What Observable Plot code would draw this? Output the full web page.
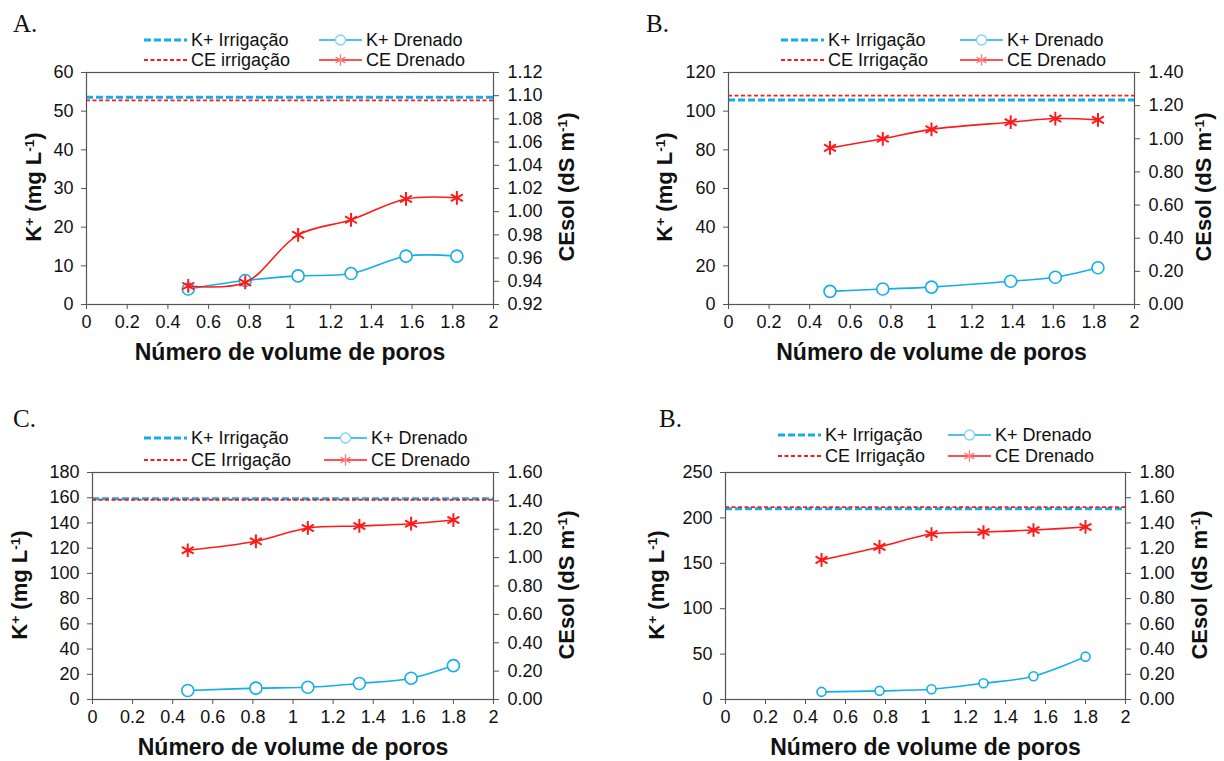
<!DOCTYPE html>
<html><head><meta charset="utf-8">
<script src="https://cdn.jsdelivr.net/npm/d3@7"></script>
<script src="https://cdn.jsdelivr.net/npm/@observablehq/plot@0.6"></script>
<style>
body{margin:0;background:#fff;font-family:"Liberation Sans",Arial,sans-serif;}
#root{position:relative;width:1224px;height:761px;overflow:hidden;background:#fff;}
.panel{position:absolute;}
.letter{position:absolute;font-family:"Liberation Serif","Times New Roman",serif;font-size:25px;line-height:1;color:#111;}
.leg{position:absolute;height:20px;font-size:18px;line-height:20px;white-space:nowrap;display:flex;align-items:center;color:#111;}
.leg svg{margin-right:4px;flex:none;}
.ytitle{position:absolute;white-space:nowrap;font-weight:bold;font-size:22px;line-height:1;color:#111;transform:translate(-50%,-50%) rotate(-90deg);}
.ytitle sup{font-size:0.62em;vertical-align:0.55em;line-height:0;}
</style></head><body><div id="root"></div>
<script>
// ---------- data ----------
const xA = [0.50, 0.78, 1.04, 1.30, 1.57, 1.82];
const kA = [4.0, 6.2, 7.4, 8.0, 12.5, 12.5];
const ceA = [0.936, 0.939, 0.980, 0.993, 1.011, 1.012];
const kIrrA = 53.6, ceIrrA = 1.096;
const kTicksA = [0, 10, 20, 30, 40, 50, 60];
const ceTicksA = [0.92, 0.94, 0.96, 0.98, 1.00, 1.02, 1.04, 1.06, 1.08, 1.10, 1.12];

const xB = [0.50, 0.76, 1.00, 1.39, 1.61, 1.82];
const kB = [6.8, 8.0, 9.0, 12.0, 14.1, 19.0];
const ceB = [0.945, 1.000, 1.057, 1.100, 1.122, 1.114];
const kIrrB = 105.8, ceIrrB = 1.26;
const kTicksB = [0, 20, 40, 60, 80, 100, 120];
const ceTicksB = [0, 0.2, 0.4, 0.6, 0.8, 1.0, 1.2, 1.4];

const xC = [0.475, 0.815, 1.074, 1.331, 1.589, 1.80];
const kC = [7.1, 9.0, 9.7, 12.7, 16.9, 26.9];
const ceC = [1.052, 1.115, 1.209, 1.223, 1.239, 1.265];
const kIrrC = 159.2, ceIrrC = 1.408;
const kTicksC = [0, 20, 40, 60, 80, 100, 120, 140, 160, 180];
const ceTicksC = [0, 0.2, 0.4, 0.6, 0.8, 1.0, 1.2, 1.4, 1.6];

const xD = [0.48, 0.77, 1.03, 1.29, 1.54, 1.80];
const kD = [8.4, 9.5, 11.3, 17.9, 25.6, 47.2];
const ceD = [1.107, 1.210, 1.312, 1.328, 1.344, 1.368];
const kIrrD = 210.0, ceIrrD = 1.526;
const kTicksD = [0, 50, 100, 150, 200, 250];
const ceTicksD = [0, 0.2, 0.4, 0.6, 0.8, 1.0, 1.2, 1.4, 1.6, 1.8];

const xTicks = [0, 0.2, 0.4, 0.6, 0.8, 1, 1.2, 1.4, 1.6, 1.8, 2];
const xTitle = "Número de volume de poros";
const kTitleHTML = "K<sup>+</sup> (mg L<sup>-1</sup>)";
const ceTitleHTML = "CEsol (dS m<sup>-1</sup>)";

// ---------- styling / layout ----------
const BLUE = "#13AEEA", RED = "#FF1A1A", AXIS = "#555";

const panels = [
  {letter: "A.", letterPos: [13, 11], left: 0, top: 62, width: 612, height: 300,
   m: {top: 10, right: 119, bottom: 58, left: 86},
   x: xA, k: kA, ce: ceA, kIrr: kIrrA, ceIrr: ceIrrA, kDomain: [0, 60], kTicks: kTicksA,
   ceDomain: [0.92, 1.12], ceTicks: ceTicksA, ceIrrLabel: "CE irrigação", r: 6,
   legCols: [144, 319], legRows: [40, 60], ltx: 34, rtx: 567, ty: 187},
  {letter: "B.", letterPos: [646, 11], left: 612, top: 62, width: 612, height: 300,
   m: {top: 10, right: 90, bottom: 58, left: 116},
   x: xB, k: kB, ce: ceB, kIrr: kIrrB, ceIrr: ceIrrB, kDomain: [0, 120], kTicks: kTicksB,
   ceDomain: [0, 1.4], ceTicks: ceTicksB, ceIrrLabel: "CE Irrigação", r: 6,
   legCols: [781, 960], legRows: [40, 60], ltx: 665, rtx: 1204, ty: 187},
  {letter: "C.", letterPos: [13, 406], left: 0, top: 462, width: 612, height: 299,
   m: {top: 10, right: 119, bottom: 62, left: 92},
   x: xC, k: kC, ce: ceC, kIrr: kIrrC, ceIrr: ceIrrC, kDomain: [0, 180], kTicks: kTicksC,
   ceDomain: [0, 1.6], ceTicks: ceTicksC, ceIrrLabel: "CE Irrigação", r: 6,
   legCols: [144, 324], legRows: [438, 460], ltx: 20, rtx: 567, ty: 585},
  {letter: "B.", letterPos: [659, 406], left: 612, top: 462, width: 612, height: 299,
   m: {top: 10, right: 99, bottom: 62, left: 113},
   x: xD, k: kD, ce: ceD, kIrr: kIrrD, ceIrr: ceIrrD, kDomain: [0, 250], kTicks: kTicksD,
   ceDomain: [0, 1.8], ceTicks: ceTicksD, ceIrrLabel: "CE Irrigação", r: 4.5,
   legCols: [778, 948], legRows: [435, 456], ltx: 657, rtx: 1200, ty: 585}
];

const root = document.getElementById("root");

function swatch(kind) {
  const svg = d3.create("svg").attr("width", 43).attr("height", 20);
  if (kind === "kIrr") {
    svg.append("line").attr("x1", 0).attr("x2", 43).attr("y1", 10).attr("y2", 10)
      .attr("stroke", BLUE).attr("stroke-width", 3).attr("stroke-dasharray", "7,3");
  } else if (kind === "ceIrr") {
    svg.append("line").attr("x1", 0).attr("x2", 43).attr("y1", 10).attr("y2", 10)
      .attr("stroke", RED).attr("stroke-width", 1.8).attr("stroke-dasharray", "4,2.5");
  } else if (kind === "k") {
    svg.append("line").attr("x1", 0).attr("x2", 43).attr("y1", 10).attr("y2", 10)
      .attr("stroke", BLUE).attr("stroke-width", 1.6);
    svg.append("circle").attr("cx", 21.5).attr("cy", 10).attr("r", 5)
      .attr("fill", "#fff").attr("stroke", "#7fd3f5").attr("stroke-width", 1.3);
  } else {
    svg.append("line").attr("x1", 0).attr("x2", 43).attr("y1", 10).attr("y2", 10)
      .attr("stroke", RED).attr("stroke-width", 1.6);
    svg.append("path").attr("transform", "translate(21.5,10)")
      .attr("d", d3.symbol(d3.symbolAsterisk, 90)())
      .attr("fill", "none").attr("stroke", "#ff7a7a").attr("stroke-width", 1.3);
  }
  return svg.node();
}

function legendItem(x, y, kind, label) {
  const div = document.createElement("div");
  div.className = "leg";
  div.style.left = x + "px";
  div.style.top = (y - 10) + "px";
  div.appendChild(swatch(kind));
  const s = document.createElement("span");
  s.textContent = label;
  div.appendChild(s);
  root.appendChild(div);
}

function yTitle(html, cx, cy) {
  const d = document.createElement("div");
  d.className = "ytitle";
  d.style.left = cx + "px";
  d.style.top = cy + "px";
  d.innerHTML = html;
  root.appendChild(d);
}

for (const p of panels) {
  const [c0, c1] = p.ceDomain;
  const [k0, k1] = p.kDomain;
  const toK = (c) => k0 + (c - c0) / (c1 - c0) * (k1 - k0);
  const fromK = (k) => c0 + (k - k0) / (k1 - k0) * (c1 - c0);

  const kData = p.x.map((x, i) => ({x, v: p.k[i]}));
  const ceData = p.x.map((x, i) => ({x, v: toK(p.ce[i])}));

  const chart = Plot.plot({
    width: p.width,
    height: p.height,
    marginTop: p.m.top, marginRight: p.m.right, marginBottom: p.m.bottom, marginLeft: p.m.left,
    style: {fontFamily: "'Liberation Sans', Arial, sans-serif", fontSize: "18px", color: "#111", background: "transparent", overflow: "visible"},
    x: {domain: [0, 2], axis: null},
    y: {domain: p.kDomain, axis: null},
    marks: [
      Plot.ruleY([p.kIrr], {stroke: BLUE, strokeWidth: 3, strokeDasharray: "7,3"}),
      Plot.ruleY([toK(p.ceIrr)], {stroke: RED, strokeWidth: 1.8, strokeDasharray: "4,2.5"}),
      Plot.frame({stroke: AXIS, strokeWidth: 1.2}),
      Plot.axisX({ticks: xTicks, tickFormat: (d) => String(d), tickSize: 5, tickPadding: 6, fontSize: 18, stroke: AXIS, label: null}),
      Plot.axisY({anchor: "left", ticks: p.kTicks, tickFormat: (d) => String(d), tickSize: 5, tickPadding: 8, fontSize: 18, stroke: AXIS, label: null}),
      Plot.axisY({anchor: "right", ticks: p.ceTicks.map(toK), tickFormat: (d) => fromK(d).toFixed(2), tickSize: 5, tickPadding: 9, fontSize: 18, stroke: AXIS, label: null}),
      Plot.line(kData, {x: "x", y: "v", stroke: BLUE, strokeWidth: 1.6, curve: "catmull-rom"}),
      Plot.dot(kData, {x: "x", y: "v", r: p.r, symbol: "circle", fill: "#fff", stroke: BLUE, strokeWidth: 1.6}),
      Plot.line(ceData, {x: "x", y: "v", stroke: RED, strokeWidth: 1.6, curve: "catmull-rom"}),
      Plot.dot(ceData, {x: "x", y: "v", r: 6.5, symbol: "asterisk", stroke: RED, strokeWidth: 2}),
      Plot.text([xTitle], {text: (d) => d, frameAnchor: "bottom", dy: 48, fontSize: 23, fontWeight: "bold", textAnchor: "middle", lineAnchor: "middle", fill: "#111"})
    ]
  });
  const wrap = document.createElement("div");
  wrap.className = "panel";
  wrap.style.left = p.left + "px";
  wrap.style.top = p.top + "px";
  wrap.appendChild(chart);
  root.appendChild(wrap);

  const lt = document.createElement("div");
  lt.className = "letter";
  lt.style.left = p.letterPos[0] + "px";
  lt.style.top = p.letterPos[1] + "px";
  lt.textContent = p.letter;
  root.appendChild(lt);

  yTitle(kTitleHTML, p.ltx, p.ty);
  yTitle(ceTitleHTML, p.rtx, p.ty);

  legendItem(p.legCols[0], p.legRows[0], "kIrr", "K+ Irrigação");
  legendItem(p.legCols[1], p.legRows[0], "k", "K+ Drenado");
  legendItem(p.legCols[0], p.legRows[1], "ceIrr", p.ceIrrLabel);
  legendItem(p.legCols[1], p.legRows[1], "ce", "CE Drenado");
}
</script>
</body></html>
